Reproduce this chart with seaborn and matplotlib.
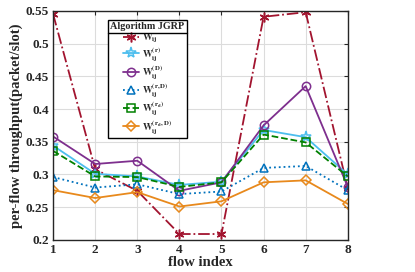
import numpy as np
import pandas as pd
import matplotlib
matplotlib.use('Agg')
import matplotlib.pyplot as plt
import seaborn as sns

# datos
flows = [1, 2, 3, 4, 5, 6, 7, 8]
w_ij = [0.545, 0.308, 0.275, 0.209, 0.209, 0.541, 0.548, 0.279]
w_r = [0.344, 0.301, 0.297, 0.284, 0.289, 0.368, 0.357, 0.300]
w_d = [0.358, 0.316, 0.321, 0.275, 0.288, 0.375, 0.435, 0.281]
w_rd = [0.296, 0.280, 0.285, 0.270, 0.274, 0.310, 0.313, 0.276]
w_rdd = [0.336, 0.297, 0.296, 0.281, 0.288, 0.361, 0.349, 0.297]
w_rdD = [0.276, 0.264, 0.273, 0.251, 0.259, 0.288, 0.291, 0.255]

labels = [r'$\mathbf{W_{ij}}$', r'$\mathbf{W_{ij}^{(r)}}$', r'$\mathbf{W_{ij}^{(D)}}$',
          r'$\mathbf{W_{ij}^{(r,D)}}$', r'$\mathbf{W_{ij}^{(r_d)}}$', r'$\mathbf{W_{ij}^{(r_d,D)}}$']
series = [w_ij, w_r, w_d, w_rd, w_rdd, w_rdD]

# estilos (color, linea, marcador)
styles = [
    ('#A2142F', '-.', (6, 2, 0), 7),
    ('#4DBEEE', '-', '*', 8),
    ('#7E2F8E', '-', 'o', 6),
    ('#0072BD', ':', '^', 6),
    ('#008000', '--', 's', 5.5),
    ('#E8891C', '-', 'D', 5),
]

sns.set_style('white')
plt.rcParams['font.family'] = ['Liberation Serif', 'DejaVu Serif']
plt.rcParams['mathtext.fontset'] = 'stix'
plt.rcParams['font.weight'] = 'bold'

fig = plt.figure(figsize=(4.15, 2.72), dpi=100)
ax = fig.add_axes([0.128, 0.118, 0.71, 0.842])

for vals, lab, (c, ls, mk, ms) in zip(series, labels, styles):
    sns.lineplot(x=flows, y=vals, ax=ax, color=c, linestyle=ls, marker=mk,
                 markersize=ms, markerfacecolor='none', markeredgecolor=c,
                 markeredgewidth=1.1, linewidth=1.3, label=lab)

ax.set_xlim(1, 8)
ax.set_ylim(0.2, 0.55)
ax.set_xticks(flows)
yt = [0.2, 0.25, 0.3, 0.35, 0.4, 0.45, 0.5, 0.55]
ax.set_yticks(yt)
ax.set_yticklabels(['0.2', '0.25', '0.3', '0.35', '0.4', '0.45', '0.5', '0.55'])
ax.grid(True, color='#dcdcdc', linewidth=0.8)
ax.tick_params(direction='in', top=True, right=True, labelsize=9.5, length=3, width=0.8, pad=3)
for lbl in ax.get_xticklabels() + ax.get_yticklabels():
    lbl.set_fontweight('bold')
for s in ax.spines.values():
    s.set_color('#262626')
    s.set_linewidth(1.0)

ax.set_xlabel('flow index', fontsize=10.5, fontweight='bold', labelpad=0)
ax.set_ylabel('per-flow throughput(packet/slot)', fontsize=10.5, fontweight='bold', labelpad=2)

leg = ax.legend(title='Algorithm JGRP', loc='upper left', bbox_to_anchor=(0.186, 0.962),
                fontsize=7, title_fontsize=7.3, frameon=True, fancybox=False,
                edgecolor='black', handlelength=1.6, labelspacing=0.05, borderpad=0.25,
                handletextpad=0.3, borderaxespad=0, framealpha=1)
leg.get_title().set_fontweight('bold')
leg.get_frame().set_linewidth(1.0)

# linea bajo el titulo de la leyenda (estilo MATLAB)
fig.canvas.draw()
tb = leg.get_title().get_window_extent().transformed(fig.transFigure.inverted())
fb = leg.get_frame().get_window_extent().transformed(fig.transFigure.inverted())
yline = tb.y0 - 0.006
fig.add_artist(plt.Line2D([fb.x0, fb.x1], [yline, yline], color='black', linewidth=1.0,
                          transform=fig.transFigure))

fig.savefig('out.png', dpi=100)
